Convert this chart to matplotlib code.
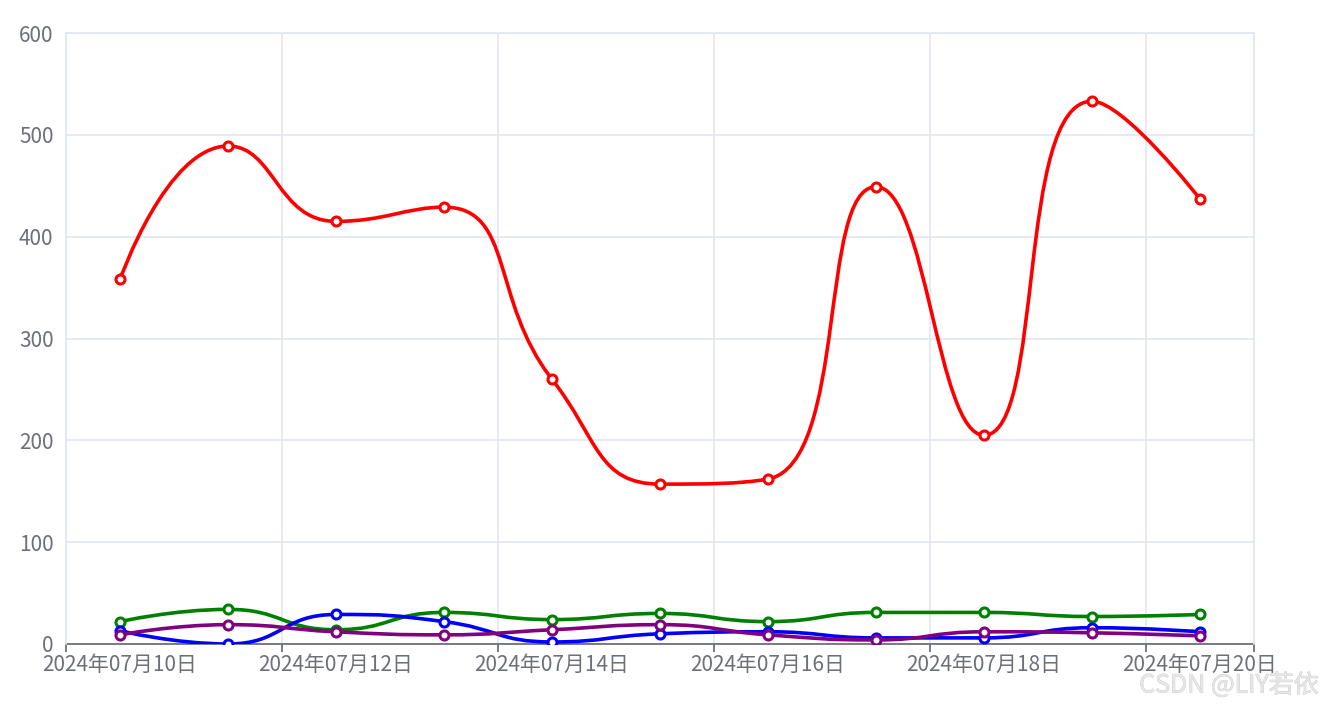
"""
Daily line chart: four smoothed series over 2024-07-10 .. 2024-07-20.
Output: out.png
"""

import numpy as np
import matplotlib
matplotlib.use("Agg")
import matplotlib.pyplot as plt
from matplotlib.path import Path
from matplotlib.patches import PathPatch
import matplotlib.patheffects as pe

plt.rcParams["font.family"] = ["Noto Sans CJK SC", "DejaVu Sans"]

# ---------------------------------------------------------------------
# Data
# ---------------------------------------------------------------------
DAYS = [10, 11, 12, 13, 14, 15, 16, 17, 18, 19, 20]

red_vals = [358, 489, 415, 429, 260, 157, 162, 449, 205, 533, 437]
green_vals = [22, 34, 14, 31, 24, 30, 22, 31, 31, 27, 29]
blue_vals = [13, 0, 29, 22, 2, 10, 12, 6, 6, 16, 12]
purple_vals = [9, 19, 12, 9, 14, 19, 9, 4, 12, 11, 8]

SERIES = [
    ("green", green_vals),
    ("blue", blue_vals),
    ("purple", purple_vals),
    ("red", red_vals),
]

AXIS_COLOR = "#6e7079"
GRID_COLOR = "#e0e6f1"

# pixel scale used for the smoothing lengths (px per data unit)
SX = 108.0
SY = 611.0 / 600.0


def smooth_path(xs, ys, smooth=0.5):
    """Bezier path like echarts smooth line (computed in pixel-ish space)."""
    pts = [(x * SX, y * SY) for x, y in zip(xs, ys)]
    n = len(pts)
    verts = [pts[0]]
    codes = [Path.MOVETO]
    cp0 = pts[0]
    for i in range(1, n):
        px, py = pts[i - 1]
        x, y = pts[i]
        if i == n - 1:
            cp1 = (x, y)
            next_cp0 = (x, y)
        else:
            nx, ny = pts[i + 1]
            vx, vy = nx - px, ny - py
            len_prev = np.hypot(x - px, y - py)
            len_next = np.hypot(nx - x, ny - y)
            ratio = len_next / (len_next + len_prev)
            ncx = x + vx * smooth * ratio
            ncy = y + vy * smooth * ratio
            ncx = min(ncx, max(nx, x))
            ncy = min(ncy, max(ny, y))
            ncx = max(ncx, min(nx, x))
            ncy = max(ncy, min(ny, y))
            vx, vy = ncx - x, ncy - y
            c1x = x - vx * len_prev / len_next
            c1y = y - vy * len_prev / len_next
            c1x = min(c1x, max(px, x))
            c1y = min(c1y, max(py, y))
            c1x = max(c1x, min(px, x))
            c1y = max(c1y, min(py, y))
            vx, vy = x - c1x, y - c1y
            next_cp0 = (x + vx * len_next / len_prev, y + vy * len_next / len_prev)
            cp1 = (c1x, c1y)
        verts += [cp0, cp1, (x, y)]
        codes += [Path.CURVE4] * 3
        cp0 = next_cp0
    verts = [(vx / SX, vy / SY) for vx, vy in verts]
    return Path(verts, codes)


def main() -> None:
    fig = plt.figure(figsize=(13.24, 7.07), dpi=100)
    ax = fig.add_axes([66 / 1324, 63 / 707, 1188 / 1324, 611 / 707])

    xs = [i + 0.5 for i in range(len(DAYS))]

    for color, vals in SERIES:
        patch = PathPatch(smooth_path(xs, vals), facecolor="none",
                          edgecolor=color, lw=2.6, zorder=3,
                          capstyle="round", joinstyle="round")
        ax.add_patch(patch)
        ax.plot(xs, vals, linestyle="none", marker="o", markersize=6.5,
                markerfacecolor="white", markeredgecolor=color,
                markeredgewidth=2.2, zorder=4)

    ax.set_xlim(0, len(DAYS))
    ax.set_ylim(0, 600)

    # category axis: ticks/grid on every other band boundary, labels on points
    ax.set_xticks(list(range(0, len(DAYS), 2)) + [len(DAYS)])
    ax.set_xticklabels([])
    ax.set_xticks(xs[::2], minor=True)
    ax.set_xticklabels([f"2024年07月{d:02d}日" for d in DAYS[::2]], minor=True)
    ax.set_yticks(range(0, 601, 100))

    ax.grid(True, which="major", color=GRID_COLOR, lw=1.2, zorder=0)
    ax.set_axisbelow(True)
    for side in ["left", "right", "top"]:
        ax.spines[side].set_color(GRID_COLOR)
        ax.spines[side].set_linewidth(1.2)
    ax.spines["bottom"].set_color(AXIS_COLOR)
    ax.spines["bottom"].set_linewidth(1.3)
    ax.spines["bottom"].set_zorder(2)

    ax.tick_params(axis="x", which="major", colors=AXIS_COLOR, length=6,
                   width=1.3)
    ax.tick_params(axis="x", which="minor", colors=AXIS_COLOR, labelsize=15,
                   length=0, pad=7)
    ax.tick_params(axis="y", colors=AXIS_COLOR, labelsize=15, length=0, pad=9)
    for lab in (ax.get_xticklabels(minor=True) + ax.get_yticklabels()):
        lab.set_color(AXIS_COLOR)

    fig.text(0.996, 0.012, "CSDN @LIY若依", ha="right", va="bottom",
             fontsize=18, color="#e6e6e6",
             path_effects=[pe.withStroke(linewidth=0.5, foreground="#c8c8c8")])

    fig.savefig("out.png", dpi=100)
    plt.close(fig)


if __name__ == "__main__":
    main()
